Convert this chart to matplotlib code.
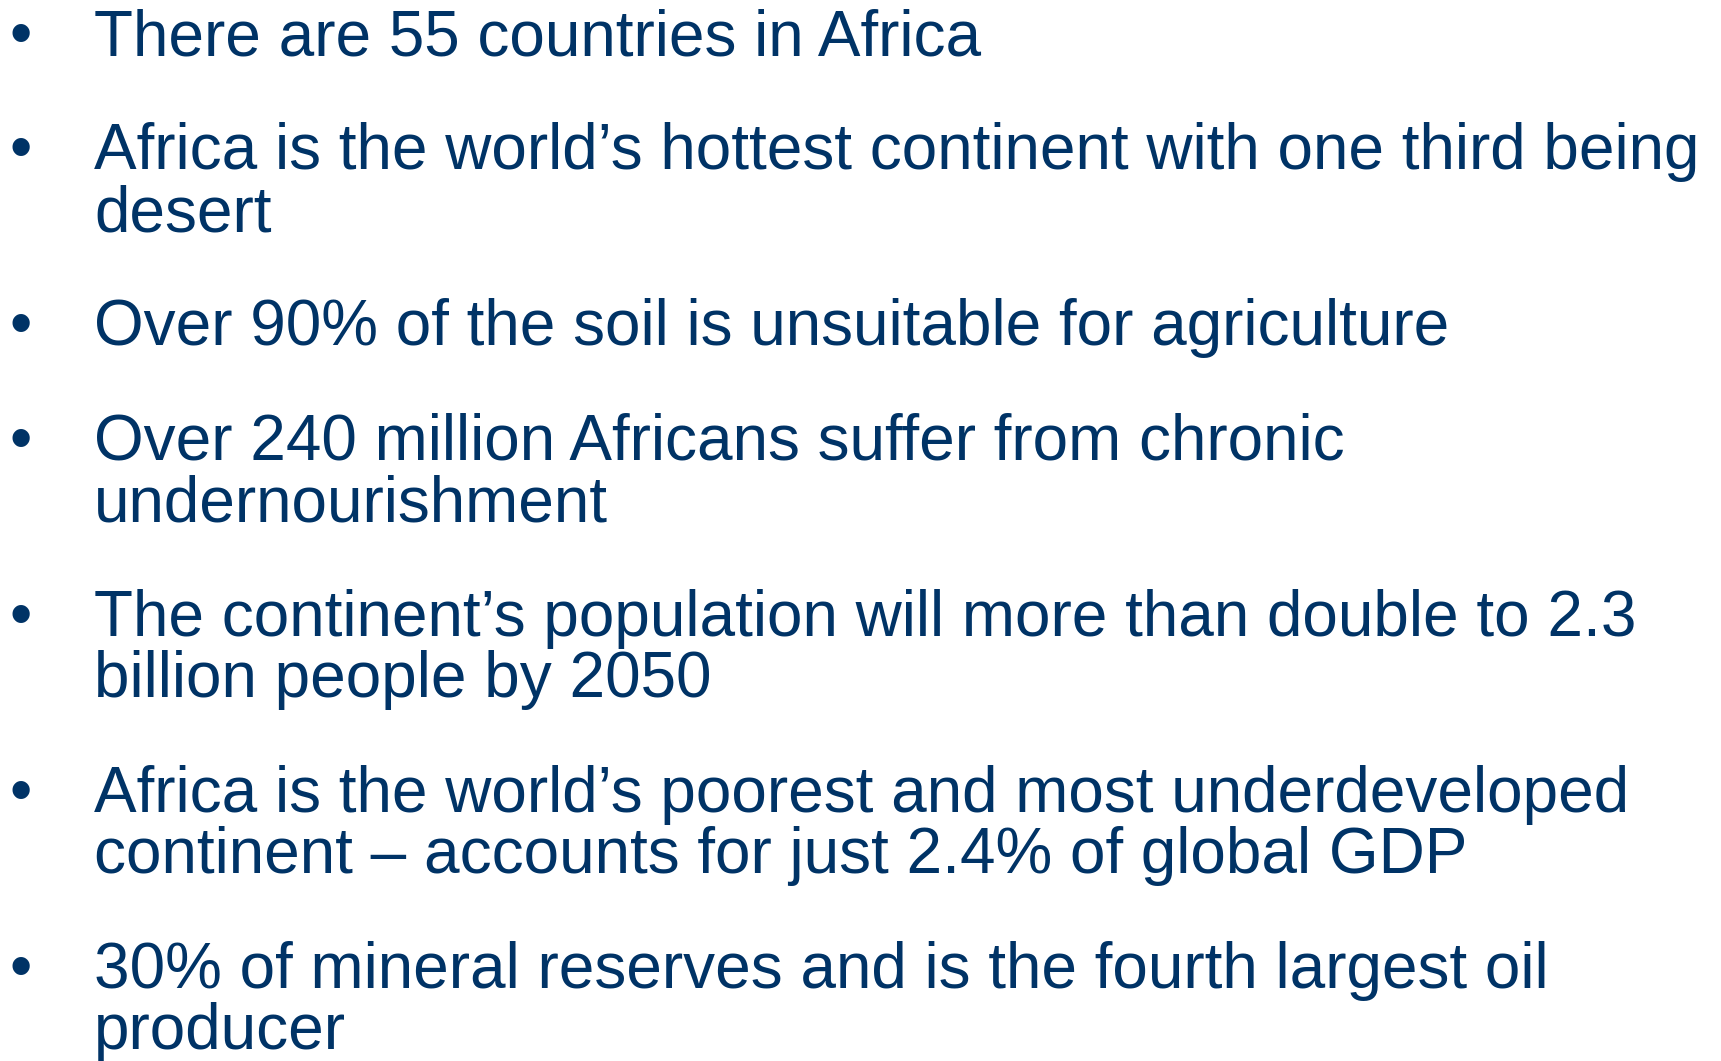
"""Bullet list slide: Africa facts."""

import matplotlib.pyplot as plt

# bullet text, one inner list per bullet (explicit line breaks as on the slide)
bullets = [
    ["There are 55 countries in Africa"],
    ["Africa is the world\u2019s hottest continent with one third being", "desert"],
    ["Over 90% of the soil is unsuitable for agriculture"],
    ["Over 240 million Africans suffer from chronic", "undernourishment"],
    ["The continent\u2019s population will more than double to 2.3", "billion people by 2050"],
    ["Africa is the world\u2019s poorest and most underdeveloped",
     "continent \u2013 accounts for just 2.4% of global GDP"],
    ["30% of mineral reserves and is the fourth largest oil", "producer"],
]

W, H = 1721, 1061
COLOR = "#003366"
FONT = "Liberation Sans"
SIZE = 46.0          # points at dpi 100
TEXT_X = 94
BULLET_X = 9
FIRST_BASE = 55
LINE_STEP = 61.5
PARA_STEP = 114.5

fig = plt.figure(figsize=(W / 100, H / 100), dpi=100)
ax = fig.add_axes([0, 0, 1, 1])
ax.set_xlim(0, W)
ax.set_ylim(H, 0)
ax.axis("off")

y = FIRST_BASE
for lines in bullets:
    ax.text(BULLET_X, y, "\u2022", fontsize=SIZE, family=FONT, color=COLOR,
            va="baseline", ha="left")
    for i, line in enumerate(lines):
        ax.text(TEXT_X, y + i * LINE_STEP, line, fontsize=SIZE, family=FONT,
                color=COLOR, va="baseline", ha="left")
    y += (len(lines) - 1) * LINE_STEP + PARA_STEP

fig.savefig("out.png", dpi=100, facecolor="white")
plt.close(fig)
